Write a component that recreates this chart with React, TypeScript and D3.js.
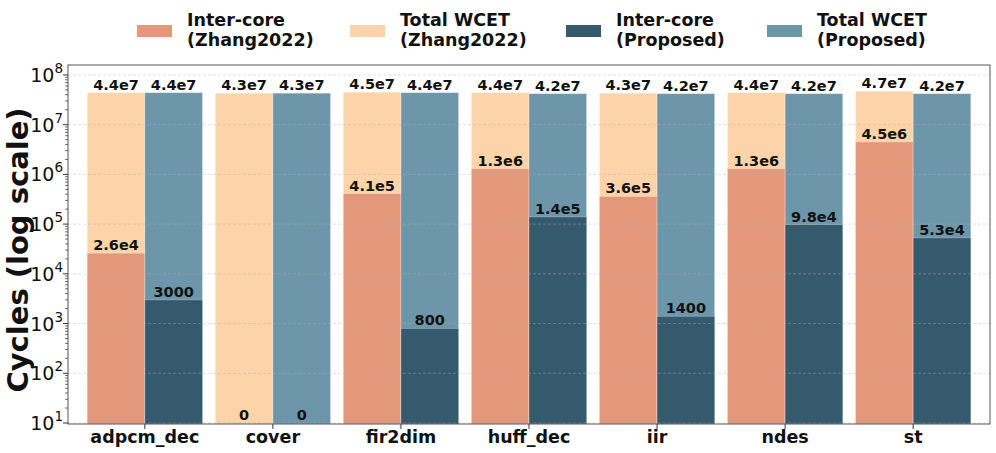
import React from "react";
import * as d3 from "d3";

const categories = ["adpcm_dec", "cover", "fir2dim", "huff_dec", "iir", "ndes", "st"];
const zhangInter = [2.6e4, 0, 4.1e5, 1.3e6, 3.6e5, 1.3e6, 4.5e6];
const zhangTotal = [4.4e7, 4.3e7, 4.5e7, 4.4e7, 4.3e7, 4.4e7, 4.7e7];
const propInter = [3000, 0, 800, 1.4e5, 1400, 9.8e4, 5.3e4];
const propTotal = [4.4e7, 4.3e7, 4.4e7, 4.2e7, 4.2e7, 4.2e7, 4.2e7];
const legendLabels = [
  ["Inter-core", "(Zhang2022)"],
  ["Total WCET", "(Zhang2022)"],
  ["Inter-core", "(Proposed)"],
  ["Total WCET", "(Proposed)"],
];

const colors = {
  zInter: "#E3977B",
  zTotal: "#FDD4A9",
  pInter: "#365A6D",
  pTotal: "#6D96AB",
};
const legendColors = [colors.zInter, colors.zTotal, colors.pInter, colors.pTotal];

const W = 996;
const H = 453;
const margin = { left: 68, right: 6, top: 65, bottom: 29 };
const font = "'DejaVu Sans', sans-serif";

const fmt = (v: number) => {
  if (v === 0) return "0";
  if (v < 1e4) return String(v);
  const e = Math.floor(Math.log10(v));
  const m = v / Math.pow(10, e);
  return `${+m.toFixed(1)}e${e}`;
};

const App: React.FC = () => {
  const x = d3
    .scaleLinear()
    .domain([-0.6, categories.length - 0.4])
    .range([margin.left, W - margin.right]);
  const y = d3
    .scaleLog()
    .domain([Math.pow(10, 0.98), Math.pow(10, 8.2)])
    .range([H - margin.bottom, margin.top]);
  const bw = x(0.45) - x(0);
  const base = H - margin.bottom;

  const majors = d3.range(1, 9).map((k) => Math.pow(10, k));
  const minors: number[] = [];
  for (let k = 0; k <= 8; k++)
    for (let m = 2; m <= 9; m++) {
      const v = m * Math.pow(10, k);
      if (v > y.domain()[0] && v < y.domain()[1]) minors.push(v);
    }

  const bar = (i: number, off: number, v: number, fill: string) =>
    v > 0 ? (
      <rect
        x={x(i) + off}
        y={y(v)}
        width={bw}
        height={base - y(v)}
        fill={fill}
        stroke="#ffffff"
        strokeOpacity={0.35}
        strokeWidth={0.8}
      />
    ) : null;

  const label = (i: number, off: number, v: number) => (
    <text
      x={x(i) + off + bw / 2}
      y={v > 0 ? y(v) - 3 : base - 4}
      textAnchor="middle"
      fontFamily={font}
      fontWeight="bold"
      fontSize={14.5}
      fill="#111"
    >
      {fmt(v)}
    </text>
  );

  const legendX = [137, 350, 566, 767];

  return (
    <svg
      width={W}
      height={H}
      style={{ position: "absolute", left: 0, top: 0, background: "#fff" }}
    >
      {/* bars */}
      {categories.map((c, i) => (
        <g key={c}>
          {bar(i, -bw, zhangTotal[i], colors.zTotal)}
          {bar(i, -bw, zhangInter[i], colors.zInter)}
          {bar(i, 0, propTotal[i], colors.pTotal)}
          {bar(i, 0, propInter[i], colors.pInter)}
        </g>
      ))}
      {/* grid */}
      {majors.map((v) => (
        <line
          key={v}
          x1={margin.left}
          x2={W - margin.right}
          y1={y(v)}
          y2={y(v)}
          stroke="#b0b0b0"
          strokeOpacity={0.5}
          strokeDasharray="3,2"
          strokeWidth={0.8}
        />
      ))}
      {/* labels */}
      {categories.map((c, i) => (
        <g key={c + "l"}>
          {label(i, -bw, zhangTotal[i])}
          {label(i, 0, propTotal[i])}
          {label(i, -bw, zhangInter[i])}
          {label(i, 0, propInter[i])}
        </g>
      ))}
      {/* frame */}
      <rect
        x={margin.left}
        y={margin.top}
        width={W - margin.left - margin.right}
        height={base - margin.top}
        fill="none"
        stroke="#555"
        strokeWidth={1}
      />
      {/* y ticks */}
      {majors.map((v) => (
        <g key={"t" + v}>
          <line x1={margin.left - 5} x2={margin.left} y1={y(v)} y2={y(v)} stroke="#333" />
          <text
            x={margin.left - 5}
            y={y(v) + 7}
            textAnchor="end"
            fontFamily={font}
            fontSize={19}
            fill="#111"
          >
            10
            <tspan dy={-9} fontSize={13.5}>
              {Math.log10(v)}
            </tspan>
          </text>
        </g>
      ))}
      {minors.map((v) => (
        <line
          key={"m" + v}
          x1={margin.left - 3}
          x2={margin.left}
          y1={y(v)}
          y2={y(v)}
          stroke="#333"
          strokeWidth={0.7}
        />
      ))}
      {/* x ticks */}
      {categories.map((c, i) => (
        <g key={"x" + c}>
          <line x1={x(i)} x2={x(i)} y1={base} y2={base + 5} stroke="#333" />
          <text
            x={x(i)}
            y={base + 19}
            textAnchor="middle"
            fontFamily={font}
            fontWeight="bold"
            fontSize={17.5}
            fill="#111"
          >
            {c}
          </text>
        </g>
      ))}
      {/* y label */}
      <text
        transform={`translate(28,250) rotate(-90)`}
        textAnchor="middle"
        fontFamily={font}
        fontWeight="bold"
        fontSize={29}
        fill="#111"
      >
        Cycles (log scale)
      </text>
      {/* legend */}
      {legendLabels.map((l, k) => (
        <g key={"lg" + k}>
          <rect x={legendX[k]} y={25} width={35} height={12} fill={legendColors[k]} />
          <text fontFamily={font} fontWeight="bold" fontSize={17.5} fill="#111">
            <tspan x={legendX[k] + 50} y={26}>
              {l[0]}
            </tspan>
            <tspan x={legendX[k] + 50} y={46}>
              {l[1]}
            </tspan>
          </text>
        </g>
      ))}
    </svg>
  );
};

export default App;
